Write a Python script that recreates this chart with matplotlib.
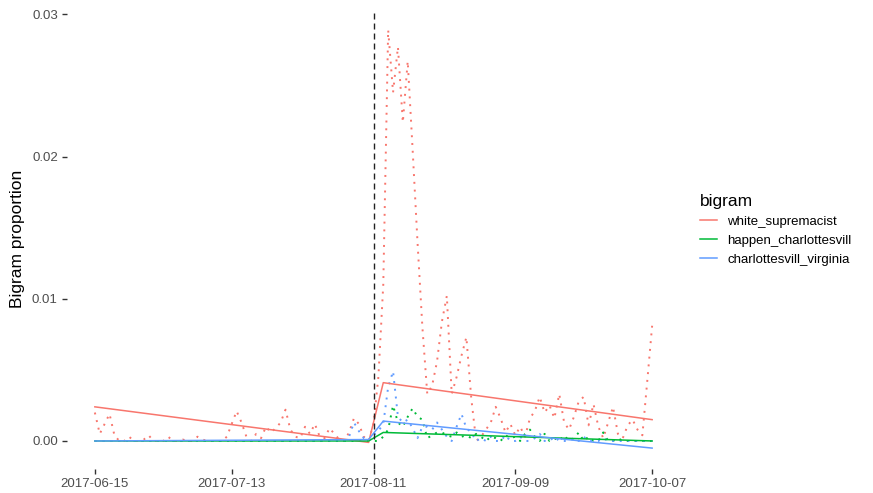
import numpy as np
import pandas as pd
import matplotlib
matplotlib.use("Agg")
import matplotlib.pyplot as plt
import matplotlib.dates as mdates

plt.rcParams['font.family'] = ['Liberation Sans', 'DejaVu Sans']

# daily bigram proportions, 2017-06-15 .. 2017-10-07
start_date = "2017-06-15"
event_date = "2017-08-11"
tick_dates = ["2017-06-15", "2017-07-13", "2017-08-11", "2017-09-09", "2017-10-07"]

bigrams = ["white_supremacist", "happen_charlottesvill", "charlottesvill_virginia"]
colors = ["#F8766D", "#00BA38", "#619CFF"]

white_supremacist = [
    0.0020, 0.0005, 0.0012, 0.0019, 0.0004, 0.0000, 0.0000, 0.0003, 0.0000, 0.0000,
    0.0001, 0.0004, 0.0000, 0.0000, 0.0000, 0.0003, 0.0000, 0.0000, 0.0001, 0.0000,
    0.0000, 0.0003, 0.0001, 0.0000, 0.0000, 0.0000, 0.0000, 0.0003, 0.0012, 0.0021,
    0.0013, 0.0003, 0.0000, 0.0005, 0.0002, 0.0010, 0.0006, 0.0009, 0.0013, 0.0022,
    0.0008, 0.0003, 0.0002, 0.0010, 0.0005, 0.0012, 0.0003, 0.0002, 0.0009, 0.0005,
    0.0001, 0.0000, 0.0006, 0.0016, 0.0012, 0.0003, 0.0000, 0.0012, 0.0045, 0.0110,
    0.0289, 0.0245, 0.0277, 0.0224, 0.0267, 0.0205, 0.0140, 0.0080, 0.0033, 0.0039,
    0.0056, 0.0084, 0.0102, 0.0033, 0.0045, 0.0060, 0.0073, 0.0030, 0.0000, 0.0003,
    0.0008, 0.0013, 0.0024, 0.0016, 0.0006, 0.0012, 0.0004, 0.0010, 0.0003, 0.0016,
    0.0021, 0.0031, 0.0020, 0.0025, 0.0016, 0.0033, 0.0013, 0.0008, 0.0017, 0.0028,
    0.0031, 0.0011, 0.0026, 0.0010, 0.0002, 0.0013, 0.0024, 0.0005, 0.0002, 0.0011,
    0.0015, 0.0008, 0.0004, 0.0042, 0.0081,
]
happen_charlottesvill = [
    0.0000, 0.0000, 0.0000, 0.0000, 0.0000, 0.0000, 0.0000, 0.0000, 0.0000, 0.0000,
    0.0000, 0.0000, 0.0000, 0.0000, 0.0000, 0.0000, 0.0000, 0.0000, 0.0000, 0.0000,
    0.0000, 0.0000, 0.0000, 0.0000, 0.0000, 0.0000, 0.0000, 0.0000, 0.0000, 0.0000,
    0.0000, 0.0000, 0.0000, 0.0000, 0.0000, 0.0000, 0.0000, 0.0000, 0.0000, 0.0000,
    0.0000, 0.0000, 0.0000, 0.0000, 0.0000, 0.0000, 0.0000, 0.0000, 0.0000, 0.0000,
    0.0000, 0.0000, 0.0000, 0.0000, 0.0000, 0.0000, 0.0000, 0.0000, 0.0000, 0.0003,
    0.0008, 0.0025, 0.0013, 0.0010, 0.0017, 0.0023, 0.0017, 0.0015, 0.0002, 0.0004,
    0.0006, 0.0006, 0.0004, 0.0003, 0.0006, 0.0003, 0.0004, 0.0002, 0.0005, 0.0003,
    0.0000, 0.0003, 0.0002, 0.0000, 0.0004, 0.0002, 0.0003, 0.0000, 0.0005, 0.0008,
    0.0003, 0.0000, 0.0005, 0.0000, 0.0002, 0.0000, 0.0004, 0.0000, 0.0002, 0.0006,
    0.0000, 0.0003, 0.0000, 0.0000, 0.0006, 0.0000, 0.0000, 0.0002, 0.0000, 0.0000,
    0.0000, 0.0000, 0.0000, 0.0000, 0.0000,
]
charlottesvill_virginia = [
    0.0000, 0.0000, 0.0000, 0.0000, 0.0000, 0.0000, 0.0000, 0.0000, 0.0000, 0.0000,
    0.0000, 0.0000, 0.0000, 0.0000, 0.0000, 0.0000, 0.0000, 0.0000, 0.0000, 0.0000,
    0.0000, 0.0000, 0.0000, 0.0000, 0.0000, 0.0000, 0.0000, 0.0000, 0.0000, 0.0000,
    0.0000, 0.0000, 0.0000, 0.0000, 0.0000, 0.0000, 0.0000, 0.0000, 0.0000, 0.0000,
    0.0000, 0.0000, 0.0000, 0.0000, 0.0000, 0.0000, 0.0000, 0.0000, 0.0000, 0.0000,
    0.0000, 0.0000, 0.0003, 0.0013, 0.0007, 0.0002, 0.0000, 0.0004, 0.0007, 0.0012,
    0.0038, 0.0049, 0.0017, 0.0013, 0.0015, 0.0009, 0.0002, 0.0010, 0.0010, 0.0008,
    0.0013, 0.0008, 0.0003, 0.0000, 0.0010, 0.0019, 0.0009, 0.0006, 0.0000, 0.0002,
    0.0000, 0.0003, 0.0000, 0.0000, 0.0004, 0.0000, 0.0000, 0.0003, 0.0000, 0.0000,
    0.0002, 0.0005, 0.0000, 0.0000, 0.0003, 0.0000, 0.0000, 0.0000, 0.0002, 0.0000,
    0.0003, 0.0000, 0.0000, 0.0000, 0.0002, 0.0000, 0.0000, 0.0000, 0.0000, 0.0000,
    0.0000, 0.0000, 0.0000, 0.0000, 0.0000,
]

# fitted (pre / post) trend lines
fit_dates = ["2017-06-15", "2017-08-10", "2017-08-13", "2017-10-07"]
fit_white = [0.0024, -0.0001, 0.0041, 0.0015]
fit_happen = [0.0000, 0.0000, 0.0006, 0.0000]
fit_virginia = [0.0000, 0.0001, 0.0014, -0.0005]

series = [white_supremacist, happen_charlottesvill, charlottesvill_virginia]
fits = [fit_white, fit_happen, fit_virginia]

dates = pd.date_range(start_date, periods=len(white_supremacist), freq="D")
fdates = pd.to_datetime(fit_dates)

fig = plt.figure(figsize=(8.73, 4.93), dpi=100)
ax = fig.add_axes([67 / 873, 1 - 469 / 493, 613 / 873, 460 / 493])

for vals, col in zip(series, colors):
    ax.plot(dates, vals, color=col, lw=1.4, linestyle=(0, (1, 3.0)))

for name, fv, col in zip(bigrams, fits, colors):
    ax.plot(fdates, fv, color=col, lw=1.1, label=name)

ax.axvline(pd.Timestamp(event_date), color="#222222", lw=1.0, linestyle=(0, (4.3, 2.9)))

# ggplot-like expanded limits
allv = np.concatenate([np.ravel(s) for s in series] + [np.ravel(f) for f in fits])
lo, hi = allv.min(), allv.max()
pad = (hi - lo) * 0.05
ax.set_ylim(lo - pad, hi + pad)
d0, d1 = mdates.date2num(dates[0]), mdates.date2num(dates[-1])
xpad = (d1 - d0) * 0.05
ax.set_xlim(d0 - xpad, d1 + xpad)

ax.set_yticks([0.0, 0.01, 0.02, 0.03])
ax.set_yticklabels(["0.00", "0.01", "0.02", "0.03"])
ax.set_xticks(pd.to_datetime(tick_dates))
ax.set_xticklabels(tick_dates)

for s in ax.spines.values():
    s.set_visible(False)
ax.tick_params(axis="both", length=3.6, width=1.0, color="#333333",
               labelcolor="#4D4D4D", labelsize=9.5, pad=3)
ax.set_ylabel("Bigram proportion", fontsize=12.5, labelpad=5)

leg = ax.legend(title="bigram", loc="upper left", bbox_to_anchor=(700 / 873, 1 - 194 / 493),
                bbox_transform=fig.transFigure, frameon=False, fontsize=9.5,
                title_fontsize=12.5, handlelength=1.3, handletextpad=0.75,
                labelspacing=0.5, borderpad=0, borderaxespad=0, alignment="left")

fig.savefig("out.png", dpi=100)
